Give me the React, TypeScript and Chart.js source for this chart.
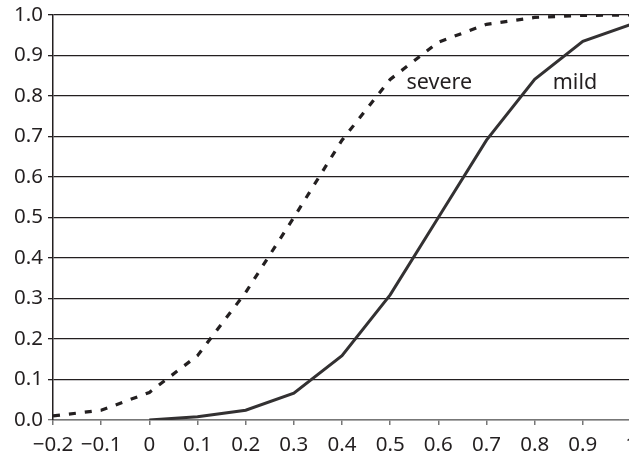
import React, { useEffect, useRef } from "react";
import { Chart, registerables } from "chart.js";

Chart.register(...registerables);

const xValues = [-0.2, -0.1, 0, 0.1, 0.2, 0.3, 0.4, 0.5, 0.6, 0.7, 0.8, 0.9, 1.0];
const severeValues = [0.01, 0.024, 0.068, 0.159, 0.315, 0.5, 0.691, 0.841, 0.933, 0.977, 0.994, 0.999, 1.0];
const mildXValues = [0, 0.1, 0.2, 0.3, 0.4, 0.5, 0.6, 0.7, 0.8, 0.9, 1.0];
const mildValues = [0.0, 0.008, 0.024, 0.066, 0.159, 0.309, 0.5, 0.691, 0.841, 0.935, 0.977];
const xTickValues = [-0.2, -0.1, 0, 0.1, 0.2, 0.3, 0.4, 0.5, 0.6, 0.7, 0.8, 0.9, 1.0];
const xTickLabels = ["\u22120.2", "\u22120.1", "0", "0.1", "0.2", "0.3", "0.4", "0.5", "0.6", "0.7", "0.8", "0.9", "1"];
const yTickValues = [0, 0.1, 0.2, 0.3, 0.4, 0.5, 0.6, 0.7, 0.8, 0.9, 1.0];
const yTickLabels = ["0.0", "0.1", "0.2", "0.3", "0.4", "0.5", "0.6", "0.7", "0.8", "0.9", "1.0"];
const curveLabels = [
  { text: "severe", x: 0.534, y: 0.833 },
  { text: "mild", x: 0.8375, y: 0.833 },
];

const FONT = "'Noto Sans', 'Open Sans', sans-serif";

const textPlugin = {
  id: "curveText",
  afterDatasetsDraw(chart: any) {
    const ctx = chart.ctx;
    const xs = chart.scales.x;
    const ys = chart.scales.y;
    ctx.save();
    ctx.font = `21.5px ${FONT}`;
    ctx.fillStyle = "#231f20";
    ctx.textAlign = "left";
    ctx.textBaseline = "middle";
    for (const l of curveLabels) {
      ctx.fillText(l.text, xs.getPixelForValue(l.x), ys.getPixelForValue(l.y));
    }
    ctx.restore();
  },
};

export default function App() {
  const ref = useRef<HTMLCanvasElement>(null);
  useEffect(() => {
    if (!ref.current) return;
    const chart = new Chart(ref.current, {
      type: "line",
      data: {
        datasets: [
          {
            label: "severe",
            data: xValues.map((x, i) => ({ x, y: severeValues[i] })),
            borderColor: "#231f20",
            borderWidth: 3.2,
            borderDash: [7, 9],
            pointRadius: 0,
            tension: 0,
            fill: false,
          },
          {
            label: "mild",
            data: mildXValues.map((x, i) => ({ x, y: mildValues[i] })),
            borderColor: "#333132",
            borderWidth: 3,
            pointRadius: 0,
            tension: 0,
            fill: false,
          },
        ],
      },
      options: {
        responsive: false,
        animation: false,
        layout: { padding: { top: 15, left: 0, right: 0, bottom: 0 } },
        plugins: { legend: { display: false }, tooltip: { enabled: false } },
        scales: {
          x: {
            type: "linear",
            min: -0.2,
            max: 1.0,
            afterBuildTicks: (s: any) => {
              s.ticks = xTickValues.map((v) => ({ value: v }));
            },
            afterFit: (s: any) => {
              s.height = 35;
              s.paddingLeft = 0;
              s.paddingRight = 0;
            },
            ticks: {
              autoSkip: false,
              maxRotation: 0,
              padding: 8,
              color: "#231f20",
              font: { family: FONT, size: 20.5 },
              callback: (v: any, i: number) => xTickLabels[i],
            },
            grid: {
              drawOnChartArea: false,
              drawTicks: true,
              tickLength: 5,
              color: "#777",
              lineWidth: 1.5,
            },
            border: { display: true, color: "#777", width: 1.5 },
          },
          y: {
            type: "linear",
            min: 0,
            max: 1.0,
            afterBuildTicks: (s: any) => {
              s.ticks = yTickValues.map((v) => ({ value: v }));
            },
            afterFit: (s: any) => {
              s.width = 53;
              s.paddingTop = 0;
              s.paddingBottom = 0;
            },
            ticks: {
              autoSkip: false,
              padding: 5,
              color: "#231f20",
              font: { family: FONT, size: 20.5 },
              callback: (v: any, i: number) => yTickLabels[i],
            },
            grid: {
              drawOnChartArea: true,
              drawTicks: true,
              tickLength: 5,
              color: (c: any) => (c.tick && c.tick.value === 0 ? "#777" : "#231f20"),
              lineWidth: 1.3,
            },
            border: { display: true, color: "#231f20", width: 1.5 },
          },
        },
      },
      plugins: [textPlugin],
    });
    return () => chart.destroy();
  }, []);
  return (
    <div style={{ position: "fixed", left: 0, top: 0, width: 629, height: 455, overflow: "hidden", background: "#fff" }}>
      <canvas ref={ref} width={631} height={455} style={{ display: "block" }} />
    </div>
  );
}
